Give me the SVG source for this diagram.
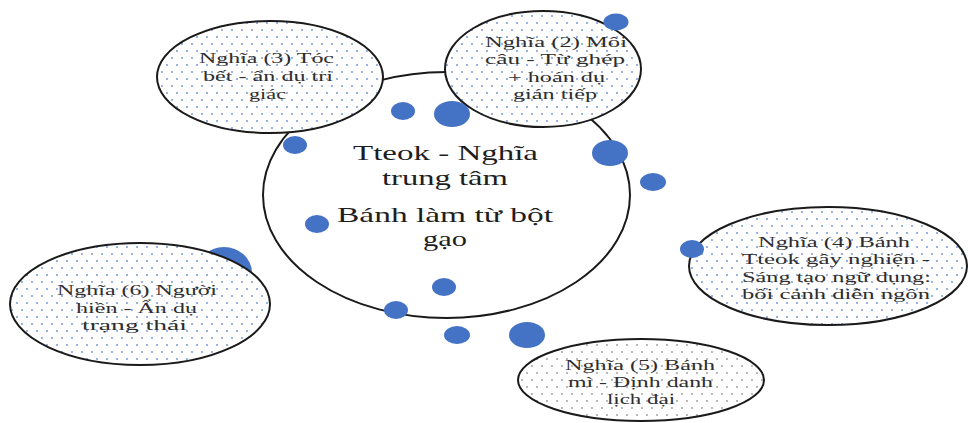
<svg xmlns="http://www.w3.org/2000/svg" width="968" height="423" viewBox="0 0 968 423">
<defs>
<pattern id="dotsBlue" patternUnits="userSpaceOnUse" width="10" height="14">
<rect width="10" height="14" fill="#ffffff"/>
<circle cx="2" cy="2" r="0.9" fill="#6f8fd0"/>
<circle cx="7" cy="9" r="0.9" fill="#6f8fd0"/>
</pattern>
<pattern id="dotsGray" patternUnits="userSpaceOnUse" width="10" height="14">
<rect width="10" height="14" fill="#ffffff"/>
<circle cx="2" cy="2" r="0.9" fill="#9a9a9a"/>
<circle cx="7" cy="9" r="0.9" fill="#9a9a9a"/>
</pattern>
</defs>
<style>
.node{stroke:#1a1a1a;stroke-width:2}
.central{fill:#ffffff;stroke:#1a1a1a;stroke-width:2}
.lbl{font-family:"Liberation Serif","Times New Roman",serif;font-size:15.5px;fill:#2e2e2e}
.ctr{font-family:"Liberation Serif","Times New Roman",serif;font-size:22px;fill:#1e1e1e}
.dot{fill:#4472c4}
</style>
<rect width="968" height="423" fill="#ffffff"/>
<g id="connectors"></g>
<g id="central">
<ellipse class="central" cx="446.5" cy="195" rx="183.5" ry="123"/>
<text class="ctr" x="353" y="160" textLength="185" lengthAdjust="spacingAndGlyphs">Tteok - Nghĩa</text>
<text class="ctr" x="382" y="185" textLength="126" lengthAdjust="spacingAndGlyphs">trung tâm</text>
<text class="ctr" x="337" y="222" textLength="216" lengthAdjust="spacingAndGlyphs">Bánh làm từ bột</text>
<text class="ctr" x="423" y="246" textLength="44" lengthAdjust="spacingAndGlyphs">gạo</text>
</g>
<ellipse class="dot" cx="224" cy="273" rx="28" ry="26"/>
<g id="node3">
<ellipse class="node" cx="270" cy="77" rx="113" ry="56" fill="url(#dotsBlue)"/>
<text class="lbl" x="199" y="63" textLength="135" lengthAdjust="spacingAndGlyphs">Nghĩa (3) Tóc</text>
<text class="lbl" x="203" y="81" textLength="130" lengthAdjust="spacingAndGlyphs">bết - ẩn dụ tri</text>
<text class="lbl" x="249" y="99" textLength="37" lengthAdjust="spacingAndGlyphs">giác</text>
</g>
<g id="node2">
<ellipse class="node" cx="543" cy="69" rx="98" ry="58" fill="url(#dotsBlue)"/>
<text class="lbl" x="485" y="47" textLength="142" lengthAdjust="spacingAndGlyphs">Nghĩa (2) Môi</text>
<text class="lbl" x="485" y="64" textLength="140" lengthAdjust="spacingAndGlyphs">câu - Từ ghép</text>
<text class="lbl" x="508" y="82" textLength="97" lengthAdjust="spacingAndGlyphs">+ hoán dụ</text>
<text class="lbl" x="513" y="99" textLength="84" lengthAdjust="spacingAndGlyphs">gián tiếp</text>
</g>
<g id="node4">
<ellipse class="node" cx="828" cy="266" rx="139" ry="59" fill="url(#dotsBlue)"/>
<text class="lbl" x="758" y="247" textLength="152" lengthAdjust="spacingAndGlyphs">Nghĩa (4) Bánh</text>
<text class="lbl" x="742" y="264" textLength="188" lengthAdjust="spacingAndGlyphs">Tteok gây nghiện -</text>
<text class="lbl" x="742" y="282" textLength="189" lengthAdjust="spacingAndGlyphs">Sáng tạo ngữ dụng:</text>
<text class="lbl" x="742" y="299" textLength="188" lengthAdjust="spacingAndGlyphs">bối cảnh diễn ngôn</text>
</g>
<g id="node6">
<ellipse class="node" cx="140" cy="304" rx="130" ry="61" fill="url(#dotsBlue)"/>
<text class="lbl" x="57" y="295" textLength="160" lengthAdjust="spacingAndGlyphs">Nghĩa (6) Người</text>
<text class="lbl" x="76" y="313" textLength="121" lengthAdjust="spacingAndGlyphs">hiền - Ẩn dụ</text>
<text class="lbl" x="82" y="330" textLength="105" lengthAdjust="spacingAndGlyphs">trạng thái</text>
</g>
<g id="node5">
<ellipse class="node" cx="641" cy="380" rx="123" ry="41" fill="url(#dotsGray)"/>
<text class="lbl" x="565" y="370" textLength="150" lengthAdjust="spacingAndGlyphs">Nghĩa (5) Bánh</text>
<text class="lbl" x="568" y="387" textLength="145" lengthAdjust="spacingAndGlyphs">mì - Định danh</text>
<text class="lbl" x="607" y="404" textLength="68" lengthAdjust="spacingAndGlyphs">lịch đại</text>
</g>
<g id="dots">
<ellipse class="dot" cx="403" cy="111" rx="12" ry="9"/>
<ellipse class="dot" cx="452" cy="114" rx="18" ry="13"/>
<ellipse class="dot" cx="295" cy="145" rx="12" ry="9"/>
<ellipse class="dot" cx="610" cy="153" rx="18" ry="13"/>
<ellipse class="dot" cx="653" cy="182" rx="13" ry="9"/>
<ellipse class="dot" cx="317" cy="224" rx="12" ry="9"/>
<ellipse class="dot" cx="444" cy="287" rx="12" ry="9"/>
<ellipse class="dot" cx="396" cy="310" rx="12" ry="9"/>
<ellipse class="dot" cx="457" cy="335" rx="13" ry="9"/>
<ellipse class="dot" cx="527" cy="335" rx="18" ry="13"/>
<ellipse class="dot" cx="616" cy="22" rx="12.5" ry="8.5"/>
<ellipse class="dot" cx="692" cy="249" rx="12" ry="9"/>
</g>
</svg>
